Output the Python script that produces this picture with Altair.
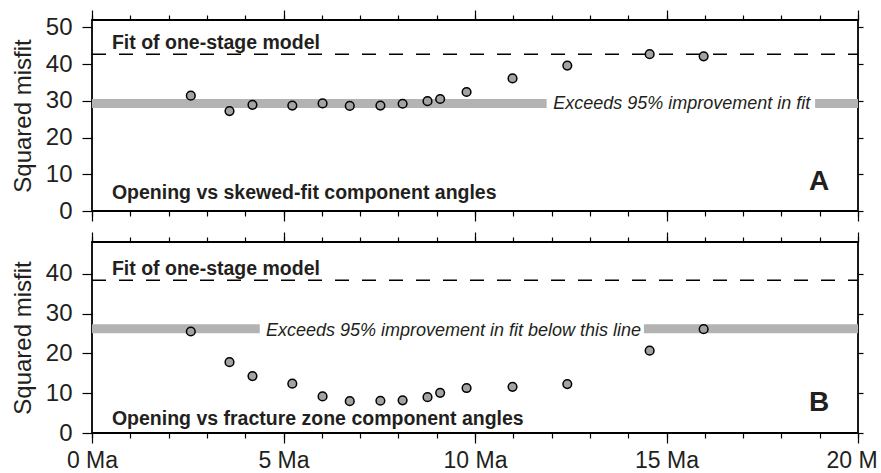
import altair as alt
import pandas as pd

# Stage-boundary ages (Ma) tested for both component-angle comparisons
ages = [2.58, 3.59, 4.19, 5.23, 6.02, 6.73, 7.53, 8.11, 8.76, 9.09, 9.78, 10.98, 12.41, 14.56, 15.97]

# Squared misfit of the two-stage model at each boundary age
misfit_skewed = [31.4, 27.2, 28.9, 28.7, 29.3, 28.6, 28.7, 29.2, 29.9, 30.5, 32.4, 36.1, 39.6, 42.7, 42.1]
misfit_fz = [25.5, 17.8, 14.3, 12.4, 9.2, 8.0, 8.1, 8.2, 9.0, 10.1, 11.3, 11.6, 12.3, 20.7, 26.1]

# Misfit of the one-stage model, and the 95%-improvement threshold
one_stage = {"A": 42.7, "B": 38.4}
threshold = {"A": 29.3, "B": 26.2}

# Pieces of the threshold line (Ma), broken where the note sits
threshold_pieces = {"A": [(0, 11.87), (18.88, 20)], "B": [(0, 4.38), (14.41, 20)]}

x_major = [0, 5, 10, 15, 20]
x_minor = list(range(0, 21))

FONT = "Liberation Sans"
INK = "#231f20"


def axis(orient, values, size, labels=False, title=None, **kw):
    return alt.Axis(
        orient=orient, values=values, tickSize=size, tickWidth=1.2,
        tickColor="black", labels=labels, title=title, domain=False,
        grid=False, **kw,
    )


def panel(misfit, key, ymax, yticks, title, note, note_x, note_y,
          fit_y, title_y, letter_y, show_x_labels):
    xs = alt.Scale(domain=[0, 20], nice=False)
    ys = alt.Scale(domain=[0, ymax], nice=False)

    left_axis = axis(
        "left", yticks, 10, labels=True, title="Squared misfit",
        labelFont=FONT, labelFontSize=24, labelColor=INK, labelPadding=10,
        titleFont=FONT, titleFontSize=24, titleFontWeight="normal",
        titleColor=INK, titlePadding=10,
    )
    if show_x_labels:
        bottom_major = axis(
            "bottom", x_major, 10, labels=True,
            labelExpr="datum.value + ' Ma'", labelFont=FONT,
            labelFontSize=23, labelColor=INK, labelPadding=6,
            labelFlush=False, labelOverlap=False,
        )
    else:
        bottom_major = axis("bottom", x_major, 10)

    pts = pd.DataFrame({"age": ages, "misfit": misfit})
    pieces = pd.DataFrame(
        [{"x0": a, "x1": b, "y": threshold[key]} for a, b in threshold_pieces[key]]
    )
    ref = pd.DataFrame({"x0": [0], "x1": [20], "y": [one_stage[key]]})

    band = alt.Chart(pieces).mark_rule(strokeWidth=9, color="#b3b3b3").encode(
        x=alt.X("x0:Q", scale=xs, axis=axis("top", x_major, 10)),
        x2="x1:Q",
        y=alt.Y("y:Q", scale=ys, axis=None),
    )

    dashed = alt.Chart(ref).mark_rule(
        strokeDash=[14, 13], strokeWidth=1.5, color="black"
    ).encode(
        x=alt.X("x0:Q", scale=xs, axis=axis("bottom", x_minor, 5)),
        x2="x1:Q",
        y=alt.Y("y:Q", scale=ys, axis=axis("right", yticks, 5)),
    )

    bold_labels = pd.DataFrame({
        "x": [0.52, 0.52],
        "y": [fit_y, title_y],
        "t": ["Fit of one-stage model", title],
    })
    bold = alt.Chart(bold_labels).mark_text(
        align="left", baseline="middle", font=FONT, fontSize=19.5,
        fontWeight="bold", color=INK,
    ).encode(
        x=alt.X("x:Q", scale=xs, axis=axis("top", x_minor, 5)),
        y=alt.Y("y:Q", scale=ys, axis=None),
        text="t:N",
    )

    note_df = pd.DataFrame({"x": [note_x], "y": [note_y], "t": [note]})
    italic = alt.Chart(note_df).mark_text(
        align="left", baseline="middle", font=FONT, fontSize=18,
        fontStyle="italic", color=INK,
    ).encode(
        x=alt.X("x:Q", scale=xs, axis=None),
        y=alt.Y("y:Q", scale=ys, axis=None),
        text="t:N",
    )

    letter_df = pd.DataFrame({"x": [19.25], "y": [letter_y], "t": [key]})
    letter = alt.Chart(letter_df).mark_text(
        align="right", baseline="middle", font=FONT, fontSize=28,
        fontWeight="bold", color=INK,
    ).encode(
        x=alt.X("x:Q", scale=xs, axis=None),
        y=alt.Y("y:Q", scale=ys, axis=None),
        text="t:N",
    )

    points = alt.Chart(pts).mark_circle(
        size=75, fill="#a3a3a3", stroke="black", strokeWidth=1.5, opacity=1,
    ).encode(
        x=alt.X("age:Q", scale=xs, axis=bottom_major),
        y=alt.Y("misfit:Q", scale=ys, axis=left_axis),
    )

    return (
        alt.layer(band, dashed, bold, italic, letter, points)
        .resolve_axis(x="independent", y="independent")
        .properties(width=766, height=191)
    )


top = panel(
    misfit_skewed, "A", 52, [0, 10, 20, 30, 40, 50],
    "Opening vs skewed-fit component angles",
    "Exceeds 95% improvement in fit", 12.04, 29.1,
    fit_y=45.7, title_y=5.0, letter_y=7.9, show_x_labels=False,
)
bottom = panel(
    misfit_fz, "B", 48, [0, 10, 20, 30, 40],
    "Opening vs fracture zone component angles",
    "Exceeds 95% improvement in fit below this line", 4.54, 25.7,
    fit_y=41.3, title_y=3.5, letter_y=7.5, show_x_labels=True,
)

# The right padding trims the page just past the frame, cutting the last tick label
chart = (
    alt.vconcat(top, bottom, spacing=6)
    .properties(padding={"left": 10, "top": 8, "right": -13, "bottom": 0},
                background="white")
    .configure_view(stroke="black", strokeWidth=1.8)
)

chart.save("out.html", embed_options={"renderer": "svg", "actions": False})
